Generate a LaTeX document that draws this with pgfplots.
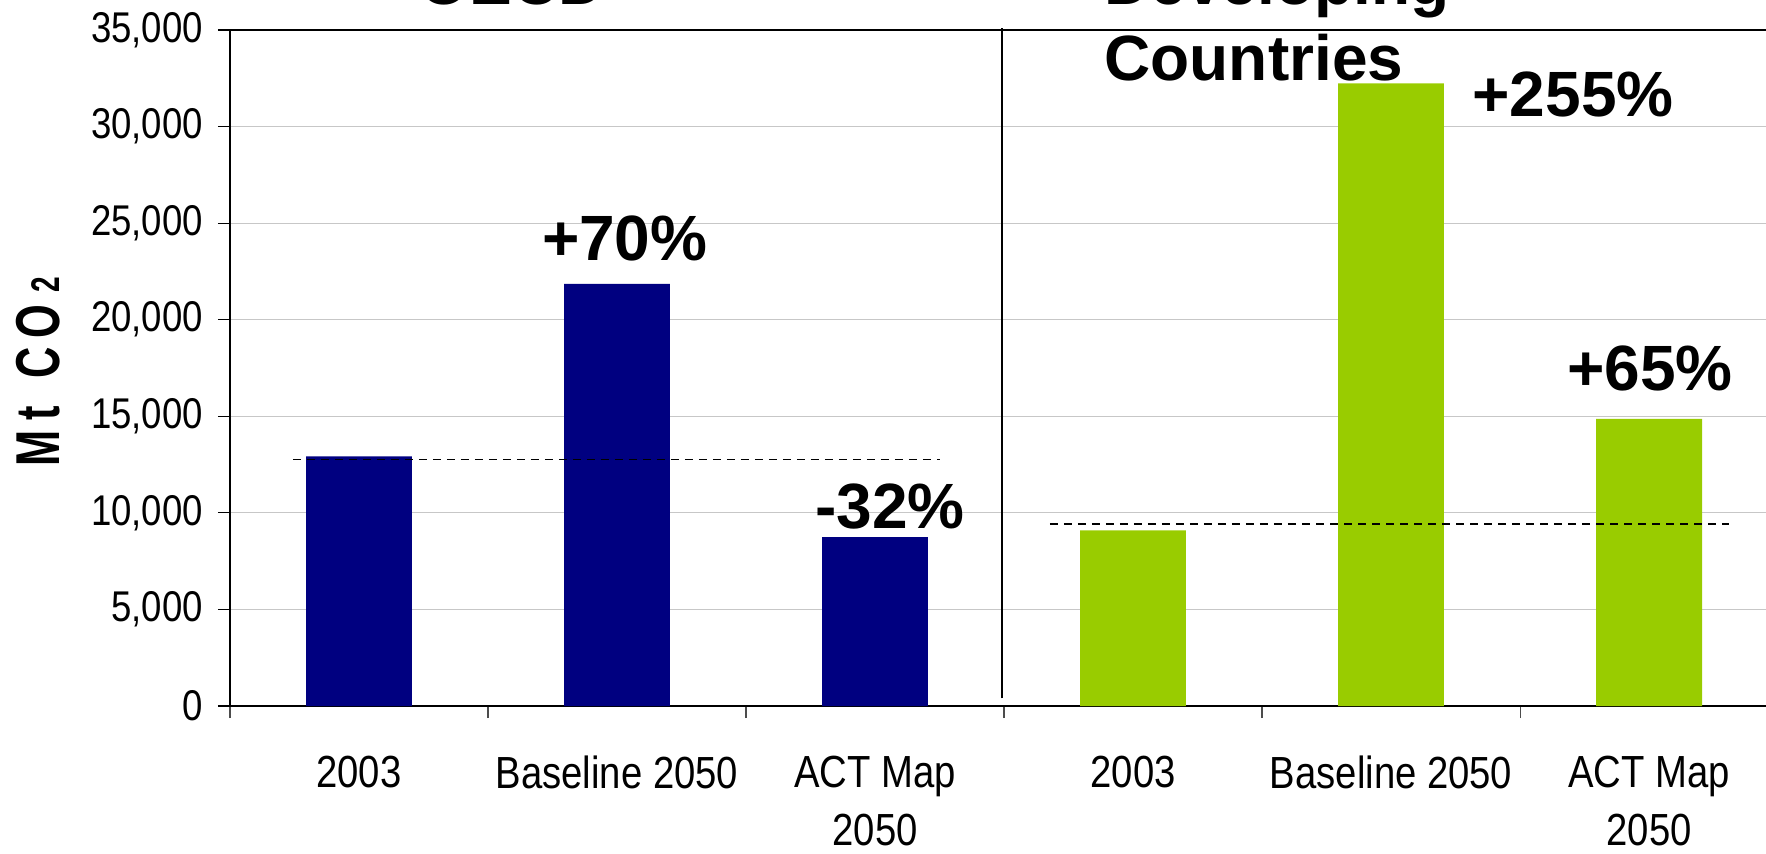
\documentclass[border=0pt]{standalone}
\usepackage{fontspec}
\setmainfont{Liberation Sans}
\newfontfamily\narrowfont{Liberation Sans}[FakeStretch=0.85]
\newfontfamily\slimfont{Liberation Sans}[FakeStretch=0.7]
\usepackage{pgfplots}
\pgfplotsset{compat=1.18}
\definecolor{oecdblue}{HTML}{000080}
\definecolor{devgreen}{HTML}{99CC00}
\newcommand{\tickfont}{\narrowfont\fontsize{21.5}{29}\selectfont}
\newcommand{\catfont}{\narrowfont\fontsize{22.5}{29}\selectfont}
\newcommand{\bigbold}{\bfseries\fontsize{32}{38}\selectfont}

\begin{document}
\begin{tikzpicture}
\begin{axis}[
  name=A,
  scale only axis, width=768pt, height=338pt,
  xmin=-0.5, xmax=5.453, ymin=0, ymax=35000,
  clip=false,
  scaled y ticks=false,
  axis x line*=bottom, axis y line*=left,
  axis line style={black, line width=0.7pt, -},
  tick align=outside,
  xtick={0,...,5},
  xticklabels={2003, Baseline 2050, {ACT Map\\2050}, 2003, Baseline 2050, {ACT Map\\2050}},
  major x tick style={draw=none},
  minor xtick={-0.5,0.5,...,4.5},
  minor x tick style={black!70, line width=0.6pt},
  minor tick length=6pt,
  xticklabel style={font=\catfont, align=center, anchor=north, yshift=-15.5pt},
  ytick={0,5000,...,35000},
  yticklabels={0,{5,000},{10,000},{15,000},{20,000},{25,000},{30,000},{35,000}},
  major tick length=6pt,
  ytick style={black, line width=0.6pt},
  yticklabel style={font=\tickfont, anchor=east, xshift=-4pt},
  ymajorgrids, grid style={black!22, line width=0.5pt},
  extra y ticks={35000}, extra y tick labels={},
  extra y tick style={grid style={black, line width=0.7pt}, major tick length=0pt},
  ylabel={\slimfont\bfseries\fontsize{31}{31}\selectfont M\hspace{5pt}t\hspace{14pt}C\hspace{4pt}O\hspace{6pt}{\fontsize{20}{20}\selectfont 2}},
  ylabel style={at={(axis description cs:-0.125,0.494)}, anchor=center},
]
% emissions, Mt CO2
\addplot[ybar, bar width=0.41, bar shift=0pt, fill=oecdblue, draw=none]
  coordinates {(0,12930) (1,21860) (2,8740)};
\addplot[ybar, bar width=0.41, bar shift=0pt, fill=devgreen, draw=none]
  coordinates {(3,9090) (4,32240) (5,14860)};

% 2003 reference levels
\addplot[black, line width=0.9pt, dash pattern=on 4pt off 3pt]
  coordinates {(-0.256,12763) (2.252,12763)};
\addplot[black, line width=0.9pt, dash pattern=on 4pt off 3pt]
  coordinates {(2.678,9439) (5.31,9439)};

% divider between the two regions
\addplot[black, line width=1.1pt] coordinates {(2.492,400) (2.492,35100)};

% change relative to 2003
\node[font=\bigbold, anchor=center] at (axis cs:1.03,24230) {+70\%};
\node[font=\bigbold, anchor=center] at (axis cs:2.058,10303) {-32\%};
\node[font=\bigbold, anchor=center] at (axis cs:4.705,31686) {+255\%};
\node[font=\bigbold, anchor=center] at (axis cs:5.004,17500) {+65\%};

% region titles
\node[font=\bigbold, anchor=base, inner sep=0pt] at (axis cs:0.593,36300) {OECD};
\node[font=\bigbold, anchor=base west, inner sep=0pt] at (axis cs:2.888,36346) {Developing};
\node[font=\bigbold, anchor=base west, inner sep=0pt] at (axis cs:2.888,32360) {Countries};
\end{axis}
\pgfresetboundingbox
\useasboundingbox ([xshift=-115pt,yshift=-73.5pt]A.south west) rectangle ([yshift=15pt]A.north east);
\end{tikzpicture}
\end{document}
